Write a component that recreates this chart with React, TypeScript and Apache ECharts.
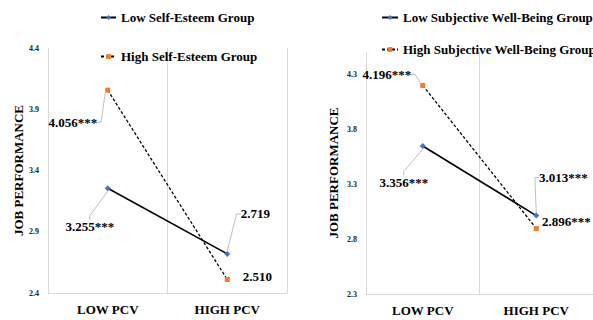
import React, { useEffect, useRef } from 'react';
import * as echarts from 'echarts';

const categories = ['LOW PCV', 'HIGH PCV'];

const lowSelfEsteem = [3.255, 2.719];
const highSelfEsteem = [4.056, 2.51];
const lowSelfEsteemLabels = ['3.255***', '2.719'];
const highSelfEsteemLabels = ['4.056***', '2.510'];

const lowSWB = [3.645, 3.013];
const highSWB = [4.196, 2.896];
const lowSWBLabels = ['3.356***', '3.013***'];
const highSWBLabels = ['4.196***', '2.896***'];

const leftAxis = { min: 2.4, max: 4.4, interval: 0.5 };
const rightAxis = { min: 2.3, max: 4.5, interval: 0.5, lastLabel: 4.3 };

const FONT = "'Liberation Serif', 'Times New Roman', serif";
const GRID_LINE = '#d9d9d9';

const layout = {
  leftLow: { off: [[-18, 38], [28, -40]], leader: [true, true] },
  leftHigh: { off: [[-35, 32], [30, -3]], leader: [true, false] },
  rightLow: { off: [[-19, 36], [27, -38]], leader: [true, true] },
  rightHigh: { off: [[-36, -11], [30, -7]], leader: [true, false] },
};

function mkSeries(
  name: string,
  values: number[],
  labels: string[],
  lay: { off: number[][]; leader: boolean[] },
  axisIndex: number,
  dashed: boolean
) {
  return {
    type: 'line',
    name,
    xAxisIndex: axisIndex,
    yAxisIndex: axisIndex,
    data: values.map((v, i) => ({ value: v, labelLine: { show: lay.leader[i] } })),
    symbol: dashed ? 'rect' : 'diamond',
    symbolSize: dashed ? 5 : 6,
    itemStyle: { color: dashed ? '#ED7D31' : '#4472C4' },
    lineStyle: { color: '#000', width: dashed ? 1.3 : 1.6, type: dashed ? [3, 2] : 'solid' },
    label: {
      show: true,
      position: 'inside',
      align: 'center',
      verticalAlign: 'middle',
      color: '#000',
      textBorderWidth: 0,
      fontFamily: FONT,
      fontWeight: 'bold',
      fontSize: 13,
      formatter: (p: any) => labels[p.dataIndex],
    },
    labelLine: { show: true, length2: 4, lineStyle: { color: '#bfbfbf', width: 1 } },
    labelLayout: (p: any) => ({ dx: lay.off[p.dataIndex][0], dy: lay.off[p.dataIndex][1] }),
    z: dashed ? 3 : 2,
  };
}

function xAxis(gridIndex: number) {
  return {
    type: 'category',
    gridIndex,
    data: categories,
    boundaryGap: true,
    axisLine: { show: true, lineStyle: { color: GRID_LINE } },
    axisTick: { show: false },
    splitLine: { show: true, lineStyle: { color: GRID_LINE } },
    axisLabel: { color: '#000', fontFamily: FONT, fontWeight: 'bold', fontSize: 13, margin: 10 },
  };
}

function yAxis(gridIndex: number, ax: any, nameGap: number, lastLabel?: number) {
  return {
    type: 'value',
    gridIndex,
    min: ax.min,
    max: ax.max,
    interval: ax.interval,
    name: 'JOB PERFORMANCE',
    nameLocation: 'middle',
    nameGap,
    nameTextStyle: { color: '#000', fontFamily: FONT, fontWeight: 'bold', fontSize: 13 },
    axisLine: { show: false },
    axisTick: { show: false },
    splitLine: { show: false },
    axisLabel: {
      color: '#222',
      fontFamily: FONT,
      fontWeight: 'bold',
      fontSize: 8,
      margin: 9,
      showMaxLabel: lastLabel === undefined,
      formatter: (v: number) => (lastLabel !== undefined && v > lastLabel + 0.01 ? '' : v.toFixed(1)),
    },
  };
}

function legend(names: string[], left: number, top: number, itemGap: number, itemWidth: number) {
  return {
    orient: 'vertical',
    left,
    top,
    itemGap,
    itemWidth,
    itemHeight: 6,
    data: names,
    textStyle: { color: '#000', fontFamily: FONT, fontWeight: 'bold', fontSize: 13 },
  };
}

export default function App() {
  const ref = useRef<HTMLDivElement>(null);
  useEffect(() => {
    if (!ref.current) return;
    const chart = echarts.init(ref.current, undefined, { renderer: 'svg' });
    chart.setOption({
      animation: false,
      backgroundColor: '#fff',
      grid: [
        { left: 48, right: 306, top: 48, bottom: 27 },
        { left: 366, right: -6, top: 52, bottom: 26 },
      ],
      legend: [
        legend(['Low Self-Esteem Group', 'High Self-Esteem Group'], 95, 6, 26, 15),
        legend(['Low Subjective Well-Being Group', 'High Subjective Well-Being Group'], 376, 6, 19, 16),
      ],
      xAxis: [xAxis(0), xAxis(1)],
      yAxis: [yAxis(0, leftAxis, 22), yAxis(1, rightAxis, 26, rightAxis.lastLabel)],
      series: [
        mkSeries('Low Self-Esteem Group', lowSelfEsteem, lowSelfEsteemLabels, layout.leftLow, 0, false),
        mkSeries('High Self-Esteem Group', highSelfEsteem, highSelfEsteemLabels, layout.leftHigh, 0, true),
        mkSeries('Low Subjective Well-Being Group', lowSWB, lowSWBLabels, layout.rightLow, 1, false),
        mkSeries('High Subjective Well-Being Group', highSWB, highSWBLabels, layout.rightHigh, 1, true),
      ],
    });
    return () => chart.dispose();
  }, []);
  return <div ref={ref} style={{ width: 593, height: 320, position: 'absolute', left: 0, top: 0 }} />;
}
